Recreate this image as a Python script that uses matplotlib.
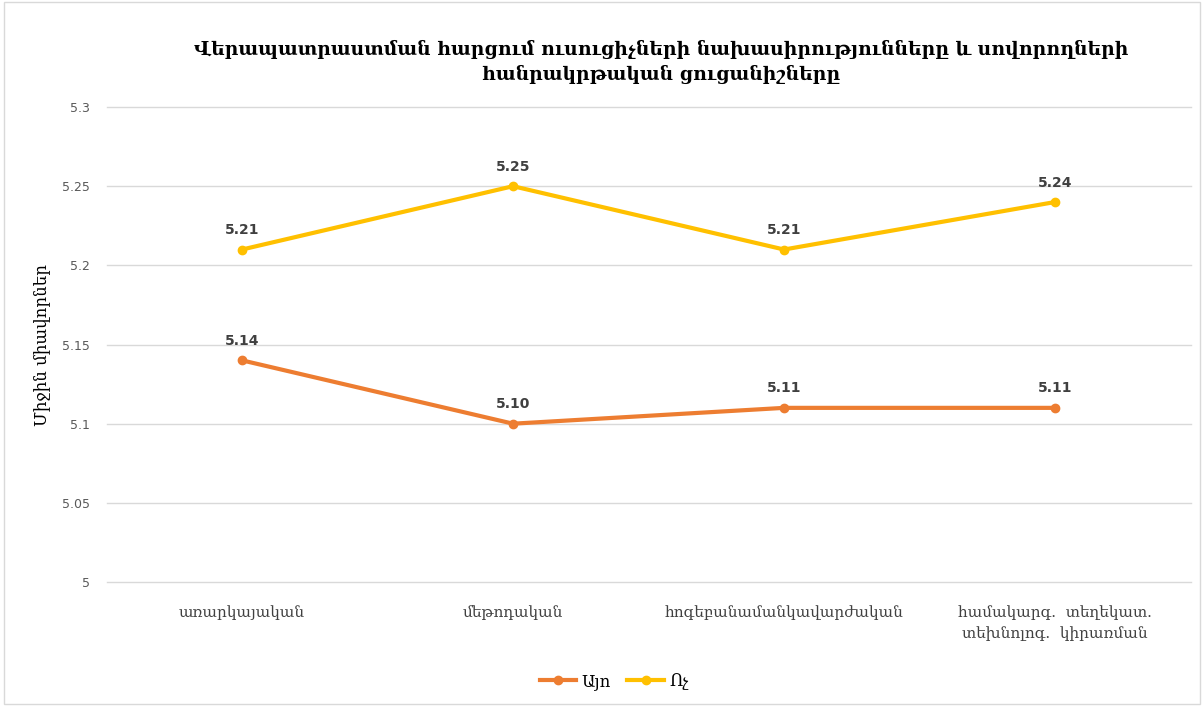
import matplotlib.pyplot as plt
from matplotlib.patches import Rectangle

categories = ["առարկայական", "մեթոդական", "հոգեբանամանկավարժական",
              "համակարգ.  տեղեկատ.\nտեխնոլոգ.  կիրառման"]
yes_vals = [5.14, 5.10, 5.11, 5.11]
no_vals = [5.21, 5.25, 5.21, 5.24]
series_names = ["Այո", "Ոչ"]
yticks = [5.0, 5.05, 5.1, 5.15, 5.2, 5.25, 5.3]
ytick_labels = ["5", "5.05", "5.1", "5.15", "5.2", "5.25", "5.3"]

title = ("Վերապատրաստման հարցում ուսուցիչների նախասիրությունները և սովորողների\n"
         "հանրակրթական ցուցանիշները")
ylabel = "Միջին միավորներ"

plt.rcParams["font.family"] = ["DejaVu Serif", "DejaVu Sans"]

fig = plt.figure(figsize=(12.04, 7.06), dpi=100)
ax = fig.add_axes([0.0885, 0.1756, 0.9003, 0.6728])

x = list(range(len(categories)))
colors = ["#ED7D31", "#FFC000"]
for vals, name, c in zip([yes_vals, no_vals], series_names, colors):
    ax.plot(x, vals, color=c, lw=3, marker="o", ms=6, label=name, zorder=3)
    for xi, v in zip(x, vals):
        ax.annotate(f"{v:.2f}", (xi, v), xytext=(0, 9), textcoords="offset points",
                    ha="center", va="bottom", fontsize=10, fontweight="bold",
                    color="#404040", family="DejaVu Sans")

ax.set_xlim(-0.5, 3.5)
ax.set_ylim(5.0, 5.3)
ax.set_yticks(yticks)
ax.set_yticklabels(ytick_labels, family="DejaVu Sans")
ax.set_xticks(x)
ax.set_xticklabels(categories, fontsize=11, color="#404040", linespacing=1.5)
ax.tick_params(axis="y", length=0, labelsize=9, labelcolor="#595959", pad=12)
ax.tick_params(axis="x", length=0, pad=17, labelsize=11)
ax.grid(axis="y", color="#D9D9D9", lw=1)
for gl in ax.get_ygridlines():
    gl.set_clip_on(False)
ax.set_axisbelow(True)
for s in ax.spines.values():
    s.set_visible(False)

ax.set_ylabel(ylabel, fontsize=12, color="#000000")
ax.yaxis.set_label_coords(-0.052, 0.5)

fig.text(0.549, 0.912, title, ha="center", va="center", fontsize=13.5,
         fontweight="bold", linespacing=1.35)

fig.legend(loc="center", bbox_to_anchor=(0.51, 0.035), ncol=2, frameon=False,
           fontsize=12, handlelength=2.2, columnspacing=1.0, handletextpad=0.3)

fig.patches.append(Rectangle((0.003, 0.003), 0.994, 0.994, transform=fig.transFigure,
                             fill=False, ec="#D9D9D9", lw=1))

fig.savefig("out.png", dpi=100)
